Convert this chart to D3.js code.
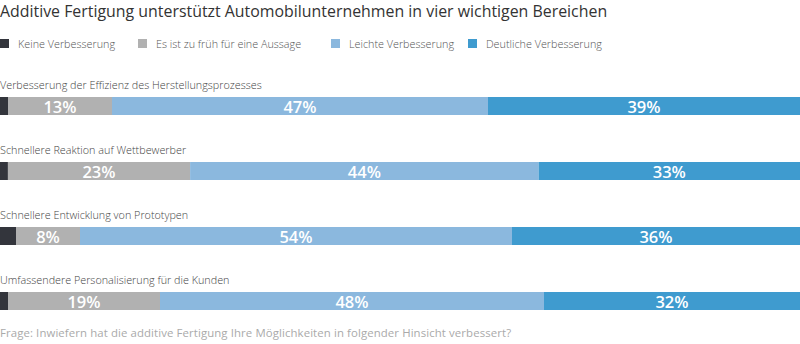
<!DOCTYPE html>
<html>
<head>
<meta charset="utf-8">
<script src="https://cdn.jsdelivr.net/npm/d3@7"></script>
<style>
  body { margin: 0; background: #fff; }
  svg { display: block; font-family: "Open Sans", sans-serif; }
</style>
</head>
<body>
<div id="chart"></div>
<script>
var width = 800,
    height = 344;

// survey answers per area (percent)
var areas = [
  "Verbesserung der Effizienz des Herstellungsprozesses",
  "Schnellere Reaktion auf Wettbewerber",
  "Schnellere Entwicklung von Prototypen",
  "Umfassendere Personalisierung für die Kunden"
];
var answers = ["Keine Verbesserung", "Es ist zu früh für eine Aussage", "Leichte Verbesserung", "Deutliche Verbesserung"];
var keine     = [1, 1, 2, 1];
var zuFrueh   = [13, 23, 8, 19];
var leicht    = [47, 44, 54, 48];
var deutlich  = [39, 33, 36, 32];

var color = d3.scaleOrdinal()
    .domain(answers)
    .range(["#33353c", "#b1b1b1", "#8bb8de", "#3f9bcf"]);

var rows = areas.map(function(a, i) {
  return { area: a, values: [keine[i], zuFrueh[i], leicht[i], deutlich[i]] };
});

var svg = d3.select("#chart").append("svg")
    .attr("width", width)
    .attr("height", height);

svg.append("text")
    .attr("x", 0).attr("y", 17)
    .style("font-size", "15.9px")
    .attr("fill", "#333")
    .text("Additive Fertigung unterstützt Automobilunternehmen in vier wichtigen Bereichen");

// legend
var legendX = [0, 138, 331, 468];
var legend = svg.selectAll(".legend")
    .data(answers)
    .enter().append("g")
    .attr("class", "legend")
    .attr("transform", function(d, i) { return "translate(" + legendX[i] + ",39)"; });
legend.append("rect")
    .attr("width", 9).attr("height", 9)
    .attr("fill", function(d) { return color(d); });
legend.append("text")
    .attr("x", 18).attr("y", 8.5)
    .style("font-size", "10.8px")
    .style("font-weight", 300)
    .attr("fill", "#555")
    .text(function(d) { return d; });

var y = d3.scaleBand()
    .domain(areas)
    .range([97, 357])
    .paddingInner(0);

var rowG = svg.selectAll(".row")
    .data(rows)
    .enter().append("g")
    .attr("class", "row")
    .attr("transform", function(d) { return "translate(0," + y(d.area) + ")"; });

rowG.append("text")
    .attr("x", 0).attr("y", -8)
    .style("font-size", "10.8px")
    .style("font-weight", 300)
    .attr("fill", "#444")
    .text(function(d) { return d.area; });

var seg = rowG.selectAll(".seg")
    .data(function(d) {
      var total = d3.sum(d.values);
      var x = d3.scaleLinear().domain([0, total]).range([0, width]);
      var acc = 0;
      return d.values.map(function(v, i) {
        var s = { key: answers[i], value: v, x0: x(acc), x1: x(acc + v) };
        acc += v;
        return s;
      });
    })
    .enter().append("g")
    .attr("class", "seg");

seg.append("rect")
    .attr("x", function(d) { return d.x0; })
    .attr("width", function(d) { return d.x1 - d.x0; })
    .attr("y", 0)
    .attr("height", 18)
    .attr("fill", function(d) { return color(d.key); });

seg.filter(function(d) { return d.key !== answers[0]; })
  .append("text")
    .attr("x", function(d) { return (d.x0 + d.x1) / 2; })
    .attr("y", 15.5)
    .attr("text-anchor", "middle")
    .style("font-size", "16.5px")
    .style("font-weight", 600)
    .attr("fill", "#fff")
    .text(function(d) { return d.value + "%"; });

svg.append("text")
    .attr("x", 0).attr("y", 337)
    .style("font-size", "11.4px")
    .style("letter-spacing", "0.1px")
    .attr("fill", "#aaa")
    .text("Frage: Inwiefern hat die additive Fertigung Ihre Möglichkeiten in folgender Hinsicht verbessert?");
</script>
</body>
</html>
